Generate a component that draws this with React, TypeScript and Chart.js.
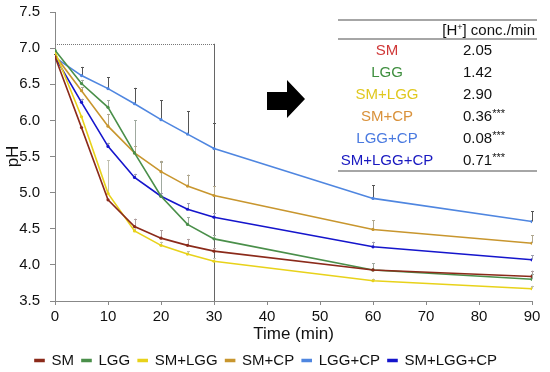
import React, { useEffect, useRef } from "react";
import { Chart, registerables } from "chart.js";

Chart.register(...registerables);

const FONT = "'Liberation Sans', Arial, Helvetica, sans-serif";

const times = [0, 5, 10, 15, 20, 25, 30, 60, 90];
const seriesNames = ["SM", "LGG", "SM+LGG", "SM+CP", "LGG+CP", "SM+LGG+CP"];

const smValues = [6.88, 5.9, 4.9, 4.53, 4.37, 4.27, 4.19, 3.93, 3.84];
const lggValues = [6.97, 6.51, 6.18, 5.55, 4.95, 4.56, 4.36, 3.93, 3.8];
const smLggValues = [6.95, 6.05, 4.99, 4.47, 4.27, 4.15, 4.05, 3.78, 3.67];
const smCpValues = [6.9, 6.41, 5.92, 5.55, 5.29, 5.09, 4.96, 4.49, 4.3];
const lggCpValues = [6.87, 6.62, 6.44, 6.23, 6.01, 5.81, 5.61, 4.92, 4.6];
const smLggCpValues = [6.88, 6.25, 5.64, 5.21, 4.95, 4.77, 4.66, 4.25, 4.07];

const smErr = [0, 0, 0, 0.11, 0.11, 0.09, 0.05, 0.09, 0.08];
const lggErr = [0, 0.05, 0.1, 0.45, 0.48, 0.1, 0.05, 0.09, 0.08];
const smLggErr = [0, 0, 0.46, 0.05, 0.05, 0.04, 0.04, 0.03, 0.04];
const smCpErr = [0, 0.05, 0.17, 0.1, 0.15, 0.16, 0.13, 0.13, 0.11];
const lggCpErr = [0.05, 0.12, 0.16, 0.22, 0.27, 0.32, 0.35, 0.18, 0.14];
const smLggCpErr = [0, 0.05, 0.05, 0.05, 0.05, 0.08, 0.06, 0.07, 0.06];

const lineColors = ["#8B2A1A", "#4A8F4A", "#E8D21A", "#C8962E", "#4F86E0", "#1515CC"];
const labelColors = ["#D03838", "#3E8E3E", "#E0C81E", "#D9913A", "#4A7AE0", "#1818C0"];
const errColors = ["#b0a0a0", "#a0aaa0", "#c0c0b0", "#b0a890", "#555555", "#a0a0b0"];

const rateValues = ["2.05", "1.42", "2.90", "0.36", "0.08", "0.71"];
const rateStars = ["", "", "", "***", "***", "***"];

const yTicks = [3.5, 4.0, 4.5, 5.0, 5.5, 6.0, 6.5, 7.0, 7.5];
const xTicks = [0, 10, 20, 30, 40, 50, 60, 70, 80, 90];

const zoomBox = { x0: 0, x1: 30, y0: 3.5, y1: 7.06 };

const allValues = [smValues, lggValues, smLggValues, smCpValues, lggCpValues, smLggCpValues];
const allErrors = [smErr, lggErr, smLggErr, smCpErr, lggCpErr, smLggCpErr];

const extrasPlugin = {
  id: "extras",
  beforeDatasetsDraw(chart: any) {
    const { ctx, scales } = chart;
    const xs = scales.x;
    const ys = scales.y;
    ctx.save();
    const l = xs.getPixelForValue(zoomBox.x0);
    const r = xs.getPixelForValue(zoomBox.x1);
    const t = ys.getPixelForValue(zoomBox.y1);
    const b = ys.getPixelForValue(zoomBox.y0);
    ctx.strokeStyle = "#777";
    ctx.lineWidth = 1;
    ctx.setLineDash([1, 1]);
    ctx.beginPath();
    ctx.moveTo(l, Math.round(t) + 0.5);
    ctx.lineTo(r, Math.round(t) + 0.5);
    ctx.stroke();
    ctx.setLineDash([]);
    ctx.strokeStyle = "#666";
    ctx.beginPath();
    ctx.moveTo(Math.round(r) + 0.5, t);
    ctx.lineTo(Math.round(r) + 0.5, b);
    ctx.stroke();
    allErrors.forEach((errs, si) => {
      ctx.strokeStyle = errColors[si];
      ctx.lineWidth = 1;
      errs.forEach((e, i) => {
        if (!e) return;
        const px = Math.round(xs.getPixelForValue(times[i])) + 0.5;
        const py0 = ys.getPixelForValue(allValues[si][i]);
        const py1 = ys.getPixelForValue(allValues[si][i] + e);
        ctx.beginPath();
        ctx.moveTo(px, py0);
        ctx.lineTo(px, py1);
        ctx.moveTo(px - 1.5, Math.round(py1) + 0.5);
        ctx.lineTo(px + 1.5, Math.round(py1) + 0.5);
        ctx.stroke();
      });
    });
    ctx.restore();
  },
  afterDraw(chart: any) {
    const { ctx } = chart;
    ctx.save();
    ctx.fillStyle = "#000";
    ctx.beginPath();
    ctx.moveTo(267, 92);
    ctx.lineTo(287, 92);
    ctx.lineTo(287, 80);
    ctx.lineTo(305, 99);
    ctx.lineTo(287, 118);
    ctx.lineTo(287, 110);
    ctx.lineTo(267, 110);
    ctx.closePath();
    ctx.fill();
    ctx.strokeStyle = "#888";
    ctx.lineWidth = 1.5;
    [20, 39, 171].forEach((y) => {
      ctx.beginPath();
      ctx.moveTo(338, y);
      ctx.lineTo(537, y);
      ctx.stroke();
    });
    ctx.fillStyle = "#111";
    ctx.textBaseline = "alphabetic";
    ctx.font = `15px ${FONT}`;
    const rest = "] conc./min";
    const restW = ctx.measureText(rest).width;
    const rightX = 535;
    ctx.textAlign = "right";
    ctx.fillText(rest, rightX, 35);
    ctx.font = `9px ${FONT}`;
    const plusW = ctx.measureText("+").width;
    ctx.fillText("+", rightX - restW, 30);
    ctx.font = `15px ${FONT}`;
    ctx.fillText("[H", rightX - restW - plusW, 35);
    ctx.textBaseline = "middle";
    seriesNames.forEach((name, i) => {
      const y = 51 + i * 21.9;
      ctx.font = `15px ${FONT}`;
      ctx.textAlign = "center";
      ctx.fillStyle = labelColors[i];
      ctx.fillText(name, 387, y);
      ctx.textAlign = "left";
      ctx.fillStyle = "#111";
      ctx.fillText(rateValues[i], 463, y);
      const w = ctx.measureText(rateValues[i]).width;
      if (rateStars[i]) {
        ctx.font = `11px ${FONT}`;
        ctx.fillText(rateStars[i], 463 + w, y - 3);
      }
    });
    ctx.restore();
  },
};

export default function App() {
  const ref = useRef<HTMLCanvasElement | null>(null);
  useEffect(() => {
    if (!ref.current) return;
    const datasets = seriesNames.map((name, i) => ({
      label: name,
      data: times.map((t, j) => ({ x: t, y: allValues[i][j] })),
      borderColor: lineColors[i],
      backgroundColor: lineColors[i],
      borderWidth: 1.6,
      pointRadius: 1.6,
      pointBorderWidth: 0,
      pointBackgroundColor: lineColors[i],
      tension: 0,
    }));
    const chart = new Chart(ref.current, {
      type: "line",
      data: { datasets },
      options: {
        animation: false,
        responsive: false,
        maintainAspectRatio: false,
        layout: { padding: { top: 12, right: 18, bottom: -6, left: 0 } },
        font: { family: FONT },
        plugins: {
          legend: {
            position: "bottom",
            labels: {
              boxWidth: 9,
              boxHeight: 2,
              padding: 8,
              color: "#111",
              font: { size: 15, family: FONT },
            },
          },
          tooltip: { enabled: false },
        },
        scales: {
          x: {
            type: "linear",
            min: 0,
            max: 90,
            afterBuildTicks: (s: any) => {
              s.ticks = xTicks.map((v) => ({ value: v }));
            },
            afterFit: (s: any) => {
              s.height = 44;
            },
            ticks: { color: "#111", font: { size: 15, family: FONT }, padding: 3 },
            grid: { display: true, drawOnChartArea: false, drawTicks: true, tickLength: 4, color: "#888" },
            border: { display: true, color: "#888" },
            title: {
              display: true,
              text: "Time (min)",
              color: "#111",
              font: { size: 17, family: FONT },
              padding: { top: 0, bottom: 0 },
            },
          },
          y: {
            type: "linear",
            min: 3.5,
            max: 7.5,
            afterBuildTicks: (s: any) => {
              s.ticks = yTicks.map((v) => ({ value: v }));
            },
            afterFit: (s: any) => {
              s.width = 55;
              s.paddingTop = 0;
              s.paddingBottom = 0;
            },
            ticks: {
              color: "#111",
              font: { size: 15, family: FONT },
              padding: 10,
              callback: (v: any) => Number(v).toFixed(1),
            },
            grid: { display: true, drawOnChartArea: false, drawTicks: true, tickLength: 5, color: "#888" },
            border: { display: true, color: "#888" },
            title: {
              display: true,
              text: "pH",
              color: "#111",
              font: { size: 17, family: FONT },
              padding: { top: 3, bottom: 0 },
            },
          },
        },
      },
      plugins: [extrasPlugin],
    } as any);
    return () => chart.destroy();
  }, []);
  return (
    <div style={{ position: "fixed", left: 0, top: 0, width: 550, height: 372, background: "#fff" }}>
      <canvas ref={ref} width={550} height={372} style={{ width: 550, height: 372 }} />
    </div>
  );
}
